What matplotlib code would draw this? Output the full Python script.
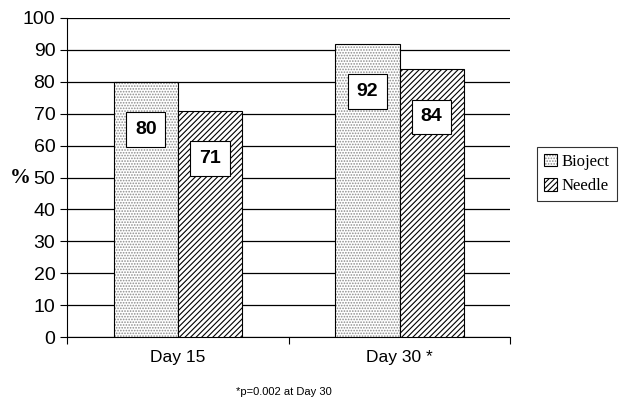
import matplotlib.pyplot as plt
import numpy as np

plt.rcParams['hatch.linewidth'] = 0.8

days = ["Day 15", "Day 30 *"]
bioject = [80, 92]
needle = [71, 84]
series = ["Bioject", "Needle"]

fig = plt.figure(figsize=(6.27, 4.0), dpi=100)
ax = fig.add_axes([0.107, 0.1575, 0.707, 0.7975])

x = np.arange(len(days))
w = 0.29
b1 = ax.bar(x - w / 2, bioject, w, facecolor="white", edgecolor="#888888", hatch="......", linewidth=0.8, zorder=3)
b2 = ax.bar(x + w / 2, needle, w, facecolor="white", edgecolor="black", hatch="//////", linewidth=0.8, zorder=3)
for b in list(b1) + list(b2):
    b.set_edgecolor("black")
for b in b1:
    b._hatch_color = (0.55, 0.55, 0.55, 1)

for xs, vals in [(x - w / 2, bioject), (x + w / 2, needle)]:
    for xi, v in zip(xs, vals):
        ax.text(xi, v - 15, str(v), ha="center", va="center", fontsize=14, fontweight="bold",
                family="Liberation Sans", zorder=5,
                bbox=dict(boxstyle="square,pad=0.45", facecolor="white", edgecolor="black", linewidth=0.8))

ax.set_xlim(-0.5, 1.5)
ax.set_ylim(0, 100)
ax.set_yticks(range(0, 101, 10))
ax.set_xticks([-0.5, 0.5, 1.5])
ax.set_xticklabels([])
ax.tick_params(axis="x", direction="out", length=5)
ax.tick_params(axis="y", direction="out", length=5, labelsize=14)
for lab in ax.get_yticklabels():
    lab.set_family("Liberation Sans")
ax.yaxis.grid(True, color="black", linewidth=0.9, zorder=0)
ax.spines["top"].set_visible(False)
ax.spines["right"].set_visible(False)
for xi, d in zip(x, days):
    ax.text(xi, -6.5, d, ha="center", va="center", fontsize=12.5, family="Liberation Sans")

fig.text(0.032, 0.555, "%", ha="center", va="center", fontsize=15, family="Liberation Serif", fontweight="bold")

fig.text(0.452, 0.012, "*p=0.002 at Day 30", ha="center", fontsize=8, family="Liberation Sans")

leg = fig.legend([b1, b2], series, loc="center", bbox_to_anchor=(0.92, 0.565),
                 prop={"family": "Liberation Serif", "size": 12}, frameon=True, fancybox=False,
                 edgecolor="black", handlelength=0.8, handleheight=0.8, handletextpad=0.3, borderpad=0.4)
leg.get_frame().set_linewidth(0.8)

fig.savefig("out.png", dpi=100)
